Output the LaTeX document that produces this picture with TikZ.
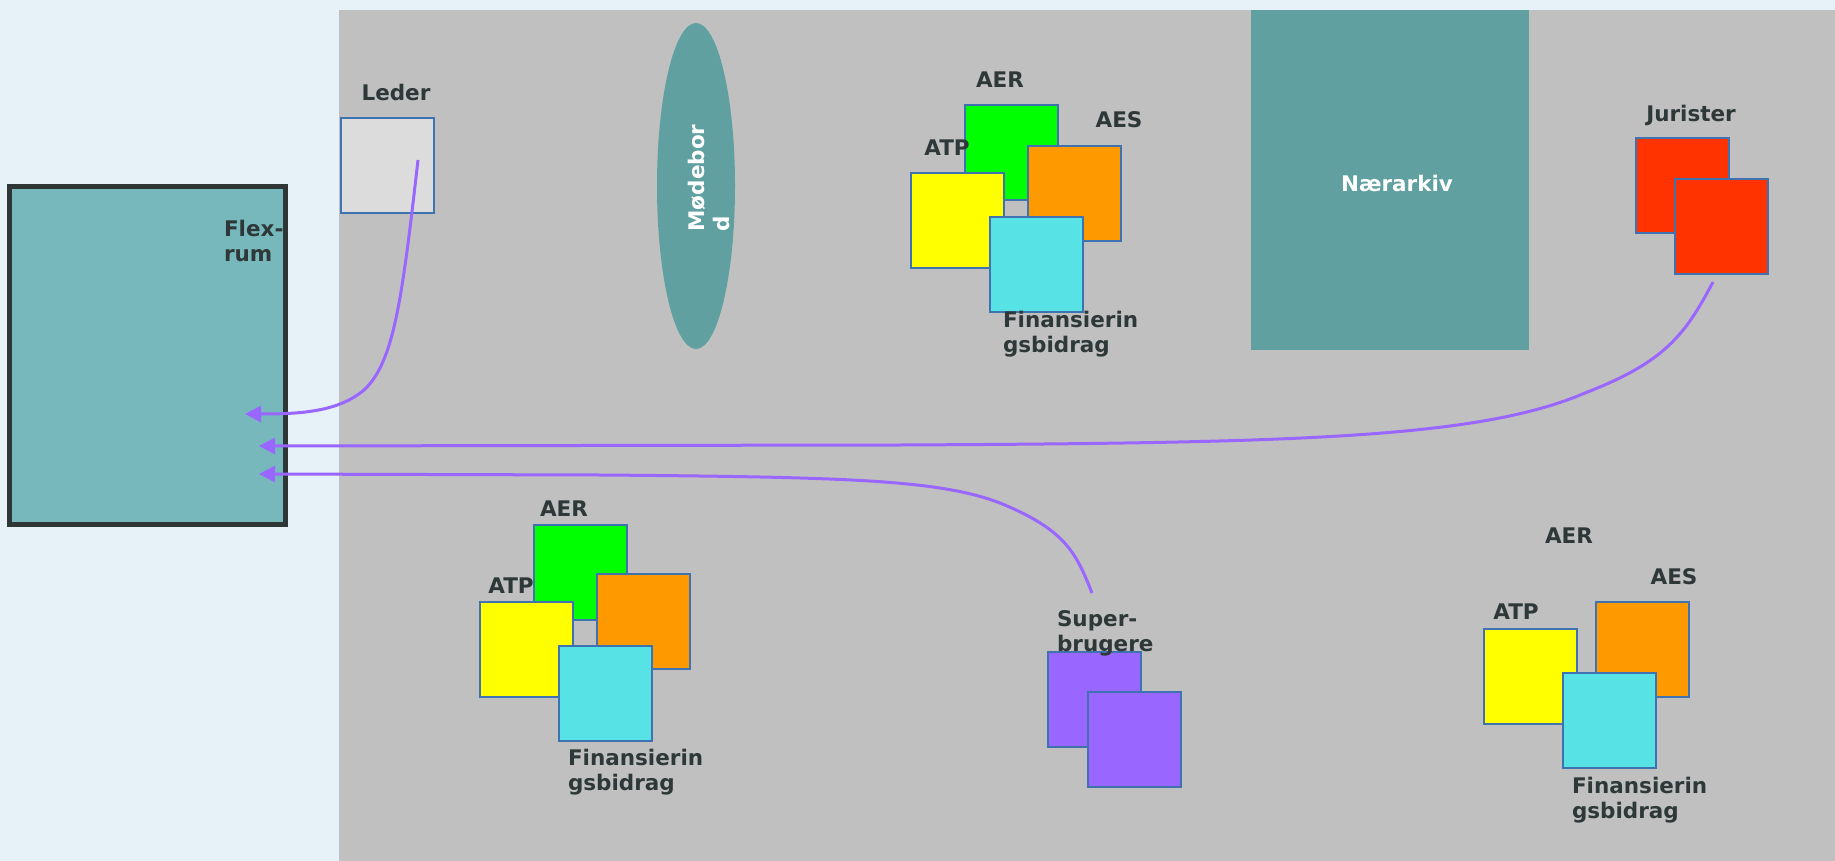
\documentclass[tikz,border=0pt]{standalone}
\usepackage{fontspec}
\setmainfont{DejaVu Sans}
\usetikzlibrary{arrows.meta,shapes.geometric}

\definecolor{paper}{HTML}{E7F2F8}
\definecolor{floorgray}{HTML}{C0C0C0}
\definecolor{flexfill}{HTML}{76B8BC}
\definecolor{flexline}{HTML}{2E3636}
\definecolor{roomteal}{HTML}{61A0A0}
\definecolor{edgeblue}{HTML}{3E72B0}
\definecolor{ink}{HTML}{2F3838}
\definecolor{flowviolet}{HTML}{9966FF}
\definecolor{ledergray}{HTML}{DCDCDC}
\definecolor{aergreen}{HTML}{00FF00}
\definecolor{aesorange}{HTML}{FF9900}
\definecolor{atpyellow}{HTML}{FFFF00}
\definecolor{fincyan}{HTML}{57E2E5}
\definecolor{jurred}{HTML}{FF3300}

% two stacked lines, baseline on the first one
\newcommand\twoline[2]{\vtop{\hbox{#1}\hbox{#2}}}

\begin{document}
\begin{tikzpicture}[x=0.5pt,y=-0.5pt,
  lbl/.style={inner sep=0pt,outer sep=0pt,text=ink,
    font=\fontsize{10.75}{12.8}\selectfont\bfseries},
  desk/.style={draw=edgeblue,line width=1pt,minimum width=46.5pt,
    minimum height=47.5pt,inner sep=0pt,outer sep=0pt,anchor=north west},
  link/.style={draw=flowviolet,line width=1.5pt,
    -{Triangle[length=8pt,width=8pt]}}]

% canvas and office floor
\useasboundingbox (0,0) rectangle (1835,861);
\fill[paper] (0,0) rectangle (1835,861);
\fill[floorgray] (339,10.5) rectangle (1835,861);

% flex room
\node[draw=flexline,line width=2.5pt,fill=flexfill,minimum width=138pt,
  minimum height=169pt,inner sep=0pt,outer sep=0pt,anchor=north west]
  (flex) at (9.5,186.5) {};
\node[lbl,anchor=base west] (flexlbl) at (224,236) {\twoline{Flex-}{rum}};

% manager
\node[desk,fill=ledergray] (leder) at (341,118) {};
\node[lbl] (lederlbl) at (396,92) {Leder};

% meeting table
\node[ellipse,fill=roomteal,minimum width=39pt,minimum height=163pt,
  inner sep=0pt] (bord) at (696,186) {};
\node[lbl,text=white,rotate=90,align=left] (bordlbl) at (709,178) {Mødebor\\d};

% near archive
\node[fill=roomteal,minimum width=139pt,minimum height=169.5pt,inner sep=0pt,
  outer sep=0pt,anchor=north west] (arkiv) at (1251,10.5) {};
\node[lbl,text=white] (arkivlbl) at (1397,183) {Nærarkiv};

% upper desk group
\node[desk,fill=aergreen] (aer1) at (965,105) {};
\node[desk,fill=aesorange] (aes1) at (1028,146) {};
\node[desk,fill=atpyellow] (atp1) at (911,173) {};
\node[desk,fill=fincyan] (fin1) at (990,217) {};
\node[lbl] (aer1lbl) at (1000,80) {AER};
\node[lbl] (aes1lbl) at (1119,120) {AES};
\node[lbl] (atp1lbl) at (947,148) {ATP};
\node[lbl,anchor=base west] (fin1lbl) at (1003,327) {\twoline{Finansierin}{gsbidrag}};

% lawyers
\node[desk,fill=jurred] (jur1) at (1636,138) {};
\node[desk,fill=jurred] (jur2) at (1675,179) {};
\node[lbl] (jurlbl) at (1691,115) {Jurister};

% lower left desk group
\node[desk,fill=aergreen] (aer2) at (534,525) {};
\node[desk,fill=aesorange] (aes2) at (597,574) {};
\node[desk,fill=atpyellow] (atp2) at (480,602) {};
\node[desk,fill=fincyan] (fin2) at (559,646) {};
\node[lbl] (aer2lbl) at (564,509) {AER};
\node[lbl] (atp2lbl) at (511,586) {ATP};
\node[lbl,anchor=base west] (fin2lbl) at (568,765) {\twoline{Finansierin}{gsbidrag}};

% super users
\node[desk,fill=flowviolet] (sup1) at (1048,652) {};
\node[desk,fill=flowviolet] (sup2) at (1088,692) {};
\node[lbl,anchor=base west] (suplbl) at (1057,626) {\twoline{Super-}{brugere}};

% lower right desk group
\node[desk,fill=aesorange] (aes3) at (1596,602) {};
\node[desk,fill=atpyellow] (atp3) at (1484,629) {};
\node[desk,fill=fincyan] (fin3) at (1563,673) {};
\node[lbl] (aer3lbl) at (1569,536) {AER};
\node[lbl] (aes3lbl) at (1674,577) {AES};
\node[lbl] (atp3lbl) at (1516,612) {ATP};
\node[lbl,anchor=base west] (fin3lbl) at (1572,793) {\twoline{Finansierin}{gsbidrag}};

% connector ends
\coordinate (lederout) at (418,160);
\coordinate (jurout) at (1713,282);
\coordinate (supout) at (1092,593);
\coordinate (flexinA) at (245,414);
\coordinate (flexinB) at (259,446);
\coordinate (flexinC) at (259,474);

% flows into the flex room
\draw[link] (lederout) .. controls (402,300) and (394,362) .. (364,390)
  .. controls (338,412) and (300,414) .. (flexinA);
\draw[link] (jurout) .. controls (1685,335) and (1665,362) .. (1585,393)
  .. controls (1480,438) and (1300,443) .. (900,445) -- (flexinB);
\draw[link] (supout) .. controls (1076,553) and (1066,530) .. (1000,503)
  .. controls (940,480) and (850,477) .. (600,475) -- (flexinC);

\end{tikzpicture}
\end{document}
